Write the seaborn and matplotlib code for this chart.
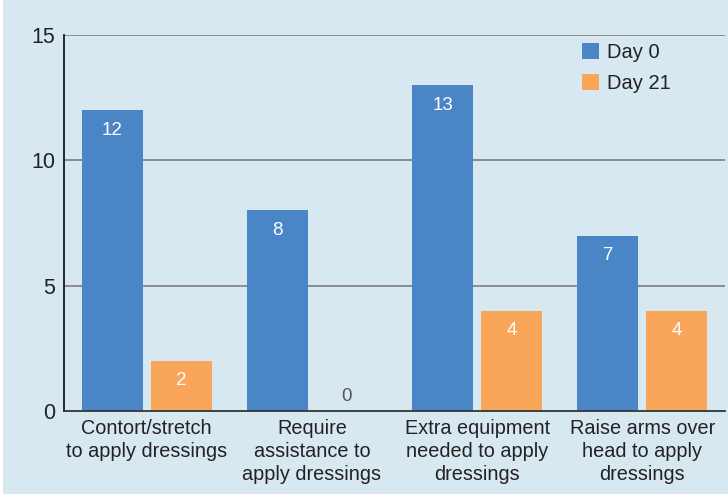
import matplotlib
matplotlib.use("Agg")
import matplotlib.pyplot as plt
from matplotlib.patches import Rectangle
import seaborn as sns
import pandas as pd

categories = [
    "Contort/stretch\nto apply dressings",
    "Require\nassistance to\napply dressings",
    "Extra equipment\nneeded to apply\ndressings",
    "Raise arms over\nhead to apply\ndressings",
]
day0 = [12, 8, 13, 7]
day21 = [2, 0, 4, 4]
series = ["Day 0", "Day 21"]
yticks = [0, 5, 10, 15]

BG = "#d8e8f1"
BLUE = "#4a86c6"
ORANGE = "#f9a65a"

df = pd.DataFrame({
    "category": categories * 2,
    "value": day0 + day21,
    "series": [series[0]] * len(categories) + [series[1]] * len(categories),
})

sns.set_theme(style="white")
plt.rcParams["font.family"] = ["Liberation Sans", "DejaVu Sans"]

fig = plt.figure(figsize=(7.28, 4.96), dpi=100, facecolor=BG)
# thin white margin on the left and bottom edges
fig.patches.append(Rectangle((0, 0), 3 / 728, 1, transform=fig.transFigure,
                             facecolor="white", edgecolor="none", zorder=0))
fig.patches.append(Rectangle((0, 0), 1, 2 / 496, transform=fig.transFigure,
                             facecolor="white", edgecolor="none", zorder=0))

ax = fig.add_axes([0.0879, 0.1714, 0.9080, 0.7580], facecolor=BG)

sns.barplot(data=df, x="category", y="value", hue="series",
            palette=[BLUE, ORANGE], width=0.835, gap=0.116,
            saturation=1, linewidth=0, edgecolor="none", ax=ax, zorder=3)

ax.set_xlim(-0.5, len(categories) - 0.5)
ax.set_ylim(0, 15)
ax.set_yticks(yticks)
ax.set_yticklabels([str(t) for t in yticks])
ax.set_xlabel("")
ax.set_ylabel("")

for t in yticks[1:]:
    ax.axhline(t, color="#8c8c8c", lw=1.4, zorder=1)

for s in ["top", "right"]:
    ax.spines[s].set_visible(False)
ax.spines["left"].set_color("#1a1a1a")
ax.spines["left"].set_linewidth(1.3)
ax.spines["bottom"].set_color("#333333")
ax.spines["bottom"].set_linewidth(1.3)
ax.spines["left"].set_zorder(4)
ax.spines["bottom"].set_zorder(4)

ax.tick_params(axis="both", length=0, colors="#222222")
ax.tick_params(axis="y", pad=6.5, labelsize=15.5)
ax.tick_params(axis="x", pad=6, labelsize=14.3)
for lbl in ax.get_xticklabels():
    lbl.set_linespacing(1.25)

# value labels: white inside the bar, grey above the baseline for zero
for container in ax.containers:
    for bar in container:
        h = bar.get_height()
        cx = bar.get_x() + bar.get_width() / 2
        if h > 1:
            ax.annotate(f"{h:g}", (cx, h), xytext=(0, -14.5),
                        textcoords="offset points", ha="center", va="center",
                        color="white", fontsize=13.5, zorder=5)
        else:
            ax.annotate(f"{h:g}", (cx, h), xytext=(0, 10.5),
                        textcoords="offset points", ha="center", va="center",
                        color="#555555", fontsize=13.5, zorder=5)

leg = ax.legend(loc="upper left", bbox_to_anchor=(0.756, 1.027), frameon=False,
                fontsize=14.5, handlelength=0.83, handleheight=0.83,
                handletextpad=0.4, labelspacing=0.6)
for txt in leg.get_texts():
    txt.set_color("#222222")

fig.savefig("out.png", dpi=100, facecolor=BG)
